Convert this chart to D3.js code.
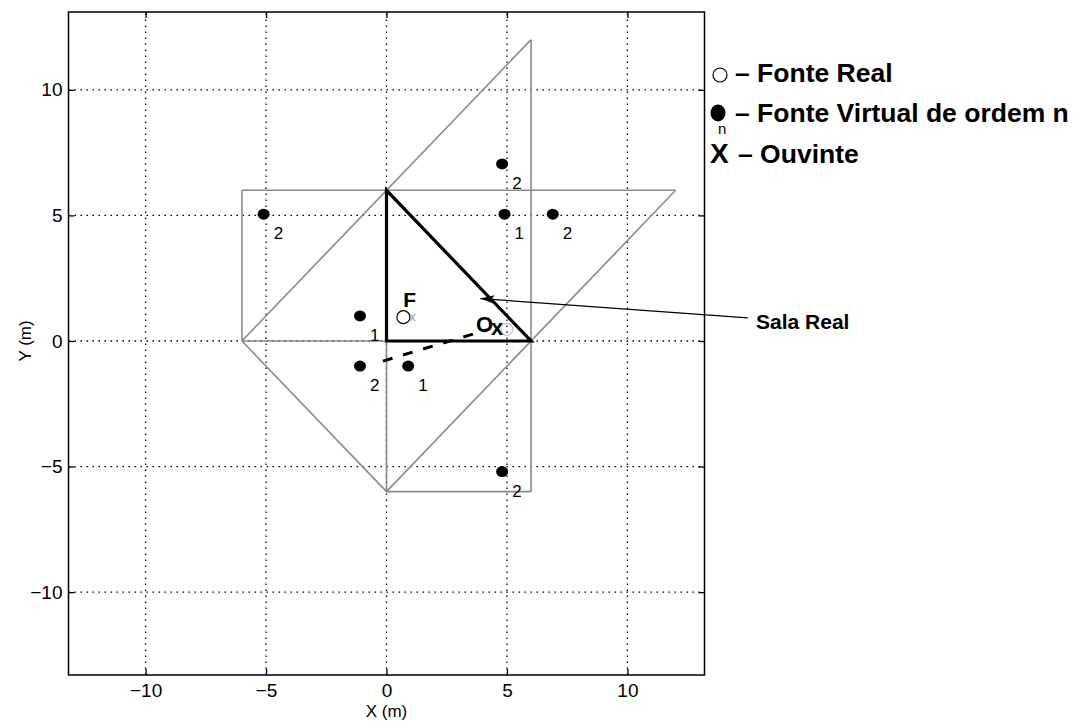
<!DOCTYPE html>
<html>
<head>
<meta charset="utf-8">
<script src="https://cdn.jsdelivr.net/npm/d3@7"></script>
<style>
  body { margin: 0; background: #fff; }
  text { font-family: "Liberation Sans", Arial, sans-serif; }
</style>
</head>
<body>
<div id="chart"></div>
<script>
// ------------------------------- DATA ------------------------------------
var tickValues = [-10, -5, 0, 5, 10];
var xDomain = [-13.2, 13.2];
var yDomain = [-13.3, 13.1];

// real room (black triangle)
var roomX = [0, 0, 6];
var roomY = [0, 6, 0];

// image rooms, grey segments
var imgX1 = [-6, 6, -6, 12, -6, 0, -6, -6, 0];
var imgY1 = [0, 12, 6, 6, 0, -6, 6, 0, 6];
var imgX2 = [6, 6, 12, 0, 0, 6, -6, 0, 0];
var imgY2 = [12, -6, 6, -6, -6, -6, 0, 0, -6];

// virtual sources and their order
var vsX = [-5.1, 4.8, 4.9, 6.9, -1.1, -1.1, 0.9, 4.8];
var vsY = [5.05, 7.05, 5.05, 5.05, 1.0, -1.0, -1.0, -5.2];
var vsOrder = [2, 2, 1, 2, 1, 2, 1, 2];

var realSource = [0.7, 0.95];
var listener = [5.0, 0.5];

// reflected path (dashed)
var pathX = [-0.15, 4.2];
var pathY = [-0.8, 0.45];

// "Sala Real" arrow
var arrowX = [15.0, 3.9];
var arrowY = [0.92, 1.69];

var legendLabels = ['\u2013 Fonte Real', '\u2013 Fonte Virtual de ordem n', '\u2013 Ouvinte'];

// ------------------------------- SCALES ------------------------------------
var x = d3.scaleLinear().domain(xDomain).range([68.5, 704.5]);
var y = d3.scaleLinear().domain(yDomain).range([675, 12]);

var svg = d3.select('#chart').append('svg').attr('width', 1085).attr('height', 724);

svg.append('defs').append('marker')
  .attr('id', 'head').attr('viewBox', '0 0 13 8')
  .attr('refX', 13).attr('refY', 4)
  .attr('markerWidth', 14).attr('markerHeight', 9)
  .attr('markerUnits', 'userSpaceOnUse')
  .attr('orient', 'auto')
  .append('path').attr('d', 'M13,4 L0,0 L3,4 L0,8 Z').attr('fill', '#000');

// ------------------------------- GRID ------------------------------------
var grid = svg.append('g');
grid.selectAll('.gx').data(tickValues).enter().append('line')
  .attr('x1', d => x(d)).attr('x2', d => x(d))
  .attr('y1', y.range()[0]).attr('y2', y.range()[1])
  .attr('stroke', '#000').attr('stroke-width', 1.3).attr('stroke-dasharray', '1.5,4.5');
grid.selectAll('.gy').data(tickValues).enter().append('line')
  .attr('y1', d => y(d)).attr('y2', d => y(d))
  .attr('x1', x.range()[0]).attr('x2', x.range()[1])
  .attr('stroke', '#000').attr('stroke-width', 1.3).attr('stroke-dasharray', '1.5,4.5');

// ------------------------------- AXES ------------------------------------
function styleAxis(g) {
  g.select('.domain').remove();
  g.selectAll('.tick line').attr('stroke', '#000').attr('stroke-width', 1.3);
  g.selectAll('.tick text').style('font-family', '"Liberation Sans Narrow", "Liberation Sans", sans-serif')
    .style('font-size', '19px').attr('fill', '#000');
}
svg.append('g').attr('transform', 'translate(0,' + y.range()[0] + ')')
  .call(d3.axisBottom(x).tickValues(tickValues).tickSizeInner(-6).tickSizeOuter(0).tickPadding(9))
  .call(styleAxis);
svg.append('g').attr('transform', 'translate(0,' + y.range()[1] + ')')
  .call(d3.axisTop(x).tickValues(tickValues).tickSizeInner(-6).tickSizeOuter(0).tickFormat(''))
  .call(styleAxis);
svg.append('g').attr('transform', 'translate(' + x.range()[0] + ',0)')
  .call(d3.axisLeft(y).tickValues(tickValues).tickSizeInner(-6).tickSizeOuter(0).tickPadding(6))
  .call(styleAxis);
svg.append('g').attr('transform', 'translate(' + x.range()[1] + ',0)')
  .call(d3.axisRight(y).tickValues(tickValues).tickSizeInner(-6).tickSizeOuter(0).tickFormat(''))
  .call(styleAxis);

svg.append('rect')
  .attr('x', x.range()[0]).attr('y', y.range()[1])
  .attr('width', x.range()[1] - x.range()[0]).attr('height', y.range()[0] - y.range()[1])
  .attr('fill', 'none').attr('stroke', '#000').attr('stroke-width', 1.5);

svg.append('text').attr('x', x(0)).attr('y', 717).attr('text-anchor', 'middle')
  .style('font-family', '"Liberation Sans Narrow", "Liberation Sans", sans-serif')
  .style('font-size', '17px').text('X (m)');
svg.append('text').attr('transform', 'translate(31,' + y(0) + ') rotate(-90)').attr('text-anchor', 'middle')
  .style('font-family', '"Liberation Sans Narrow", "Liberation Sans", sans-serif')
  .style('font-size', '17px').text('Y (m)');

// ------------------------------- IMAGE ROOMS ------------------------------------
svg.append('g').selectAll('line').data(imgX1).enter().append('line')
  .attr('x1', (d, i) => x(imgX1[i])).attr('y1', (d, i) => y(imgY1[i]))
  .attr('x2', (d, i) => x(imgX2[i])).attr('y2', (d, i) => y(imgY2[i]))
  .attr('stroke', '#8a8a8a').attr('stroke-width', 1.6);

// ------------------------------- REAL ROOM ------------------------------------
var roomPts = roomX.map((d, i) => [x(d), y(roomY[i])]);
svg.append('path').attr('d', d3.line()(roomPts) + 'Z')
  .attr('fill', 'none').attr('stroke', '#000').attr('stroke-width', 3.2).attr('stroke-linejoin', 'miter');

// dashed reflection path
svg.append('line')
  .attr('x1', x(pathX[0])).attr('y1', y(pathY[0]))
  .attr('x2', x(pathX[1])).attr('y2', y(pathY[1]))
  .attr('stroke', '#000').attr('stroke-width', 3).attr('stroke-dasharray', '10,11');

// ------------------------------- SOURCES ------------------------------------
var vs = svg.append('g');
vs.selectAll('ellipse').data(vsX).enter().append('ellipse')
  .attr('cx', (d, i) => x(vsX[i])).attr('cy', (d, i) => y(vsY[i]))
  .attr('rx', 6).attr('ry', 5.5).attr('fill', '#000');
vs.selectAll('text').data(vsOrder).enter().append('text')
  .attr('x', (d, i) => x(vsX[i]) + 10).attr('y', (d, i) => y(vsY[i]) + 25)
  .style('font-size', '17px').text(d => d);

// real source F
svg.append('circle').attr('cx', x(realSource[0])).attr('cy', y(realSource[1])).attr('r', 6.5)
  .attr('fill', '#fff').attr('stroke', '#000').attr('stroke-width', 1.2);
svg.append('text').attr('x', x(realSource[0]) + 6).attr('y', y(realSource[1]) + 4)
  .style('font-size', '13px').attr('fill', '#999').text('x');
svg.append('text').attr('x', x(realSource[0])).attr('y', y(realSource[1]) - 10)
  .style('font-size', '21px').style('font-weight', 'bold').text('F');

// listener O x
svg.append('circle').attr('cx', x(listener[0])).attr('cy', y(listener[1]) + 1).attr('r', 6)
  .attr('fill', 'none').attr('stroke', '#c8c8c8').attr('stroke-width', 1.3);
svg.append('text').attr('x', x(listener[0]) - 31).attr('y', y(listener[1]) + 4)
  .style('font-size', '22px').style('font-weight', 'bold').text('O');
svg.append('text').attr('x', x(listener[0]) - 16).attr('y', y(listener[1]) + 7)
  .style('font-size', '22px').style('font-weight', 'bold').text('x');

// ------------------------------- SALA REAL ------------------------------------
svg.append('line')
  .attr('x1', x(arrowX[0])).attr('y1', y(arrowY[0]))
  .attr('x2', x(arrowX[1])).attr('y2', y(arrowY[1]))
  .attr('stroke', '#000').attr('stroke-width', 1.2)
  .attr('marker-end', 'url(#head)');
svg.append('text').attr('x', 756).attr('y', 329)
  .style('font-size', '21px').style('font-weight', 'bold').text('Sala Real');

// ------------------------------- LEGEND ------------------------------------
var leg = svg.append('g');
var legY = [82, 122, 163];
leg.append('circle').attr('cx', 720).attr('cy', legY[0] - 7).attr('r', 7)
  .attr('fill', '#fff').attr('stroke', '#000').attr('stroke-width', 1.2);
leg.append('ellipse').attr('cx', 718).attr('cy', legY[1] - 9).attr('rx', 7.5).attr('ry', 8.5).attr('fill', '#000');
leg.append('text').attr('x', 710).attr('y', legY[2]).style('font-size', '28px').style('font-weight', 'bold').text('X');
leg.append('text').attr('x', 718).attr('y', legY[1] + 12).style('font-size', '15px').text('n');
leg.selectAll('.lt').data(legendLabels).enter().append('text')
  .attr('x', (d, i) => i == 2 ? 738 : 735).attr('y', (d, i) => legY[i])
  .style('font-size', '26.5px').style('font-weight', 'bold').text(d => d);
</script>
</body>
</html>
